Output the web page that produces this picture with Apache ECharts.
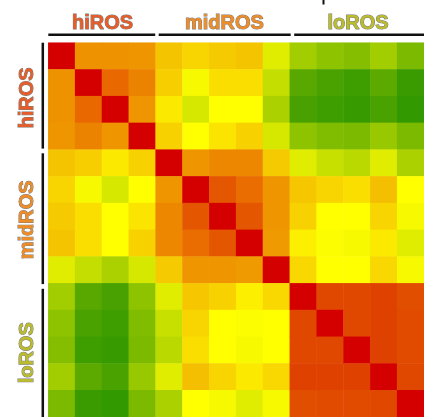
<!DOCTYPE html>
<html>
<head>
<meta charset="utf-8">
<script src="https://cdn.jsdelivr.net/npm/echarts@6/dist/echarts.min.js"></script>
<style>
  html, body { margin: 0; padding: 0; background: #ffffff; }
  #chart { width: 424px; height: 417px; }
</style>
</head>
<body>
<div id="chart"></div>
<script>
// Sample groups (in matrix order) and their sizes
const groupNames = ['hiROS', 'midROS', 'loROS'];
const groupSizes = [4, 5, 5];
const groupColors = ['#e65d29', '#ee8d27', '#bbbb2e'];

// Sample identifiers, one per row / column
const samples = ['H1', 'H2', 'H3', 'H4', 'M1', 'M2', 'M3', 'M4', 'M5', 'L1', 'L2', 'L3', 'L4', 'L5'];

// Correlation matrix, upper triangle: each row starts at its own diagonal
const rowH1 = [1.000, 0.848, 0.848, 0.845, 0.800, 0.775, 0.790, 0.800, 0.650, 0.585, 0.565, 0.555, 0.585, 0.545];
const rowH2 = [1.000, 0.895, 0.865, 0.785, 0.685, 0.760, 0.760, 0.620, 0.500, 0.480, 0.465, 0.505, 0.458];
const rowH3 = [1.000, 0.845, 0.740, 0.640, 0.700, 0.700, 0.595, 0.478, 0.465, 0.455, 0.480, 0.450];
const rowH4 = [1.000, 0.780, 0.700, 0.750, 0.780, 0.640, 0.565, 0.550, 0.545, 0.575, 0.545];
const rowM1 = [1.000, 0.845, 0.860, 0.860, 0.790, 0.650, 0.625, 0.610, 0.650, 0.595];
const rowM2 = [1.000, 0.925, 0.890, 0.845, 0.795, 0.775, 0.760, 0.805, 0.700];
const rowM3 = [1.000, 0.925, 0.845, 0.780, 0.700, 0.700, 0.775, 0.685];
const rowM4 = [1.000, 0.840, 0.730, 0.695, 0.685, 0.740, 0.650];
const rowM5 = [1.000, 0.770, 0.700, 0.700, 0.770, 0.685];
const rowL1 = [1.000, 0.950, 0.950, 0.955, 0.940];
const rowL2 = [1.000, 0.950, 0.955, 0.945];
const rowL3 = [1.000, 0.955, 0.945];
const rowL4 = [1.000, 0.950];
const rowL5 = [1.000];

// Colour scale from low (green) through yellow to high (red)
const scaleMin = 0.45, scaleMax = 1.0;
const scaleColors = ['#339900', '#58a800', '#80bc00', '#b0d400', '#e0ec00', '#ffff00',
                     '#fbe400', '#f5c400', '#ee9000', '#e86400', '#e04800', '#d40000'];

const upperRows = [rowH1, rowH2, rowH3, rowH4, rowM1, rowM2, rowM3, rowM4, rowM5,
                   rowL1, rowL2, rowL3, rowL4, rowL5];

// Mirror the upper triangle into [x, y, value] cells
const cells = [];
upperRows.forEach(function (row, i) {
  row.forEach(function (v, k) {
    const j = i + k;
    cells.push([j, i, v]);
    if (j !== i) cells.push([i, j, v]);
  });
});

// Layout of the matrix area
const W = 424, H = 417;
const gridLeft = 48.3, gridTop = 42.7, cell = 27.1;
const n = samples.length;

const chart = echarts.init(document.getElementById('chart'), null, { renderer: 'canvas' });

// Group brackets and titles along the top and the left edge
const graphics = [];
let start = 0;
groupNames.forEach(function (name, g) {
  const end = start + groupSizes[g];
  const x0 = gridLeft + start * cell, x1 = gridLeft + end * cell;
  const y0 = gridTop + start * cell, y1 = gridTop + end * cell;
  const visX1 = Math.min(x1, W), visY1 = Math.min(y1, H);

  graphics.push({
    type: 'line', silent: true,
    shape: { x1: x0 + (g > 0 ? 2 : 0), y1: 34.7, x2: Math.min(x1 - 1.5, W + 2), y2: 34.7 },
    style: { stroke: '#111111', lineWidth: 2.5 }
  });
  graphics.push({
    type: 'line', silent: true,
    shape: { x1: 42.8, y1: y0 + (g > 0 ? 2.2 : 0), x2: 42.8, y2: Math.min(y1 - 2.5, H + 2) },
    style: { stroke: '#111111', lineWidth: 2.5 }
  });
  graphics.push({
    type: 'text', silent: true,
    x: (x0 + visX1) / 2, y: 23.5,
    style: {
      text: name, fill: groupColors[g], stroke: '#7a7a7a', lineWidth: 1,
      font: 'bold 20px "Liberation Sans", Arial, sans-serif',
      align: 'center', verticalAlign: 'middle'
    }
  });
  graphics.push({
    type: 'text', silent: true,
    x: 27.5, y: (y0 + visY1) / 2 + 1,
    rotation: Math.PI / 2,
    style: {
      text: name, fill: groupColors[g], stroke: '#7a7a7a', lineWidth: 1,
      font: 'bold 20px "Liberation Sans", Arial, sans-serif',
      align: 'center', verticalAlign: 'middle'
    }
  });
  start = end;
});

// Small tick mark at the top edge
graphics.push({
  type: 'line', silent: true,
  shape: { x1: 323.5, y1: 0, x2: 323.5, y2: 4.5 },
  style: { stroke: '#111111', lineWidth: 2 }
});

chart.setOption({
  animation: false,
  backgroundColor: '#ffffff',
  grid: { left: gridLeft, top: gridTop, width: cell * n, height: cell * n, containLabel: false },
  xAxis: {
    type: 'category', data: samples,
    axisLine: { show: false }, axisTick: { show: false }, axisLabel: { show: false },
    splitLine: { show: false }, splitArea: { show: false }
  },
  yAxis: {
    type: 'category', data: samples, inverse: true,
    axisLine: { show: false }, axisTick: { show: false }, axisLabel: { show: false },
    splitLine: { show: false }, splitArea: { show: false }
  },
  visualMap: {
    show: false, type: 'continuous', dimension: 2,
    min: scaleMin, max: scaleMax,
    inRange: { color: scaleColors }
  },
  series: [{
    type: 'heatmap',
    data: cells,
    itemStyle: { borderWidth: 0 },
    emphasis: { disabled: true },
    label: { show: false }
  }],
  graphic: graphics
});
</script>
</body>
</html>
